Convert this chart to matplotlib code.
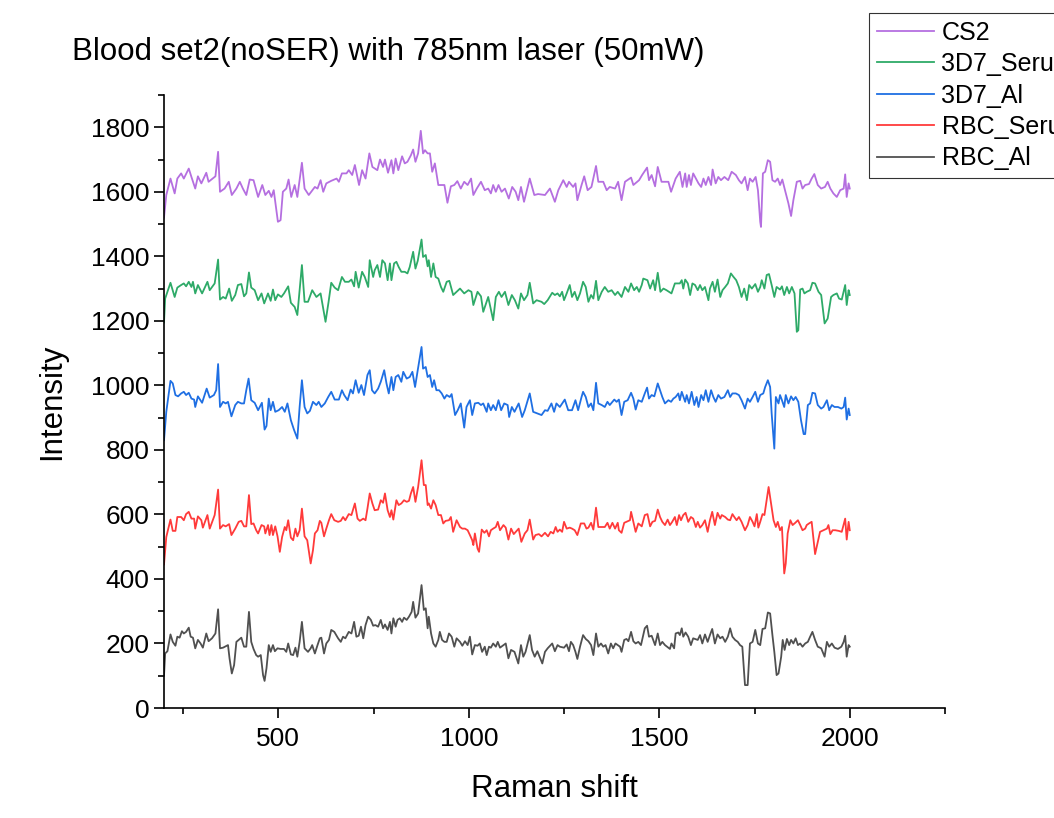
import numpy as np
import matplotlib
matplotlib.use("Agg")
import matplotlib.pyplot as plt
from matplotlib.ticker import MultipleLocator

plt.rcParams['font.family'] = ['Liberation Sans', 'DejaVu Sans']

# Raman shift / intensity
cs2_x = [200,206,217,228,235,245,252,265,272,282,289,298,311,317,335,342,347,359,370,378,
         390,399,407,416,425,435,447,458,466,475,482,488,499,506,512,521,527,534,543,550,
         562,569,580,596,603,611,618,626,639,653,659,667,679,685,694,701,712,720,729,739,
         747,760,767,775,780,788,797,802,808,815,825,832,839,848,854,860,867,874,880,885,
         892,898,904,911,920,936,944,953,962,970,979,988,997,1006,1012,1021,1032,1042,1051,1058,
         1064,1071,1078,1086,1095,1105,1114,1123,
         1130,1137,1145,1160,1172,1182,1200,1213,1226,1235,1248,1257,1263,1274,1280,1285,1296,1303,1312,1322,
         1334,1340,1353,1362,1370,1384,1392,1401,1410,1426,1432,1447,1455,1468,1473,1480,1489,1496,1506,1524,
         1531,1543,1554,1561,1568,1572,1578,1583,1589,1603,1610,1616,1622,1629,1636,1640,1648,1655,1662,1671,
         1681,1690,1701,1709,1716,1725,1732,1738,1745,1753,1759,1765,1767,1772,1778,1785,1791,1797,1804,1811,
         1817,1823,1830,1839,1846,1852,1861,1870,1876,1883,1893,1900,1907,1916,1925,1935,1942,1949,1957,1966,
         1975,1984,1988,1992,1997,2000]
cs2_y = [1520,1590,1641,1595,1641,1657,1641,1672,1646,1610,1648,1626,1659,1631,1648,1724,1600,1610,1631,1590,
         1610,1631,1610,1590,1638,1636,1584,1621,1590,1603,1584,1605,1507,1512,1600,1610,1638,1584,1621,1584,
         1690,1610,1590,1615,1610,1636,1600,1626,1634,1641,1631,1657,1657,1667,1652,1683,1621,1667,1641,1719,
         1677,1667,1700,1677,1700,1659,1698,1657,1703,1667,1710,1688,1693,1713,1731,1693,1719,1789,1719,1729,
         1719,1719,1662,1688,1621,1621,1566,1617,1621,1633,1610,1631,1621,1641,1590,1610,1631,1605,1610,1595,
         1621,1600,1621,1600,1610,1579,1615,1600,
         1574,1615,1569,1641,1590,1593,1590,1610,1569,1605,1636,1615,1631,1615,1626,1574,1621,1648,1605,1615,
         1680,1631,1631,1605,1615,1610,1631,1574,1631,1644,1621,1636,1652,1675,1636,1652,1617,1677,1631,1631,
         1600,1641,1662,1615,1657,1615,1652,1621,1657,1626,1615,1641,1621,1646,1621,1669,1626,1646,1636,1646,
         1636,1662,1652,1636,1626,1646,1605,1641,1631,1646,1605,1507,1491,1657,1662,1698,1693,1636,1631,1641,
         1621,1638,1605,1564,1525,1574,1631,1634,1610,1621,1624,1641,1655,1621,1610,1615,1631,1610,1595,1584,
         1605,1610,1654,1584,1626,1610]

s3d7_x = [200,203,217,228,235,245,252,258,265,272,276,282,289,300,314,320,333,342,347,355,
          362,371,378,387,394,403,410,416,423,429,438,447,456,463,473,480,486,492,499,508,
          515,526,533,543,550,562,569,578,589,600,611,624,632,639,648,657,667,675,685,692,
          699,703,711,720,727,736,740,749,753,760,767,773,780,787,793,797,804,810,816,823,
          832,839,845,854,860,866,876,880,887,892,895,901,907,913,920,927,933,942,949,959,
          968,977,988,999,1007,1012,1023,1032,1038,1051,1064,1071,1079,1086,1095,1104,1113,1121,
          1130,1137,1145,1154,1160,1169,1178,1191,1198,1207,1219,1226,1233,1239,1245,1250,1257,1265,1271,1278,
          1285,1292,1300,1307,1314,1321,1327,1334,1340,1349,1357,1366,1375,1384,1391,1401,1410,1419,1426,1434,
          1441,1447,1454,1458,1469,1476,1484,1489,1496,1503,1511,1519,1532,1541,1554,1559,1563,1568,1575,1581,
          1587,1594,1601,1607,1613,1620,1629,1633,1640,1646,1653,1660,1666,1673,1680,1688,1695,1702,1709,1716,
          1723,1730,1736,1743,1752,1759,1765,1769,1776,1782,1788,1795,1802,1808,1817,1822,1828,1835,1841,1848,
          1855,1861,1865,1870,1876,1881,1887,1896,1902,1909,1918,1925,1934,1942,1951,1957,1966,1972,1979,1988,
          1992,1997,2000]
s3d7_y = [1195,1269,1318,1274,1303,1311,1316,1307,1321,1305,1321,1285,1311,1285,1321,1295,1316,1390,1266,1274,
          1269,1300,1262,1280,1311,1314,1276,1285,1350,1303,1295,1264,1285,1254,1285,1262,1297,1264,1282,1274,
          1285,1307,1256,1243,1218,1373,1259,1259,1295,1274,1285,1197,1259,1318,1303,1295,1336,1321,1321,1328,
          1307,1352,1303,1352,1336,1305,1388,1336,1357,1373,1336,1388,1378,1326,1378,1326,1378,1383,1367,1352,
          1352,1347,1367,1414,1362,1386,1452,1398,1404,1369,1388,1336,1378,1336,1331,1305,1290,1321,1324,1280,
          1290,1300,1285,1295,1290,1249,1290,1276,1228,1274,1202,1274,1290,1274,1290,1249,1280,1264,
          1238,1285,1264,1280,1318,1254,1264,1259,1252,1264,1287,1280,1285,1276,1290,1264,1285,1311,1274,1290,
          1264,1285,1321,1305,1259,1280,1269,1324,1264,1290,1305,1290,1295,1280,1290,1274,1305,1290,1316,1295,
          1305,1290,1311,1331,1326,1300,1326,1295,1349,1290,1300,1295,1285,1316,1316,1326,1300,1328,1316,1280,
          1316,1311,1295,1311,1295,1305,1264,1300,1321,1290,1328,1274,1295,1305,1316,1347,1336,1326,1305,1274,
          1300,1264,1311,1300,1314,1290,1305,1326,1300,1342,1345,1311,1274,1305,1297,1307,1280,1305,1285,1305,
          1285,1166,1171,1297,1300,1285,1290,1295,1318,1316,1290,1280,1192,1207,1274,1280,1285,1269,1266,1311,
          1249,1295,1280]

a3d7_x = [200,206,217,223,230,237,245,252,258,265,272,279,282,289,300,312,320,331,337,342,
          347,355,362,368,377,387,394,403,410,416,422,429,438,447,457,464,469,475,480,486,
          492,501,510,517,524,533,541,550,556,562,569,576,583,591,600,606,613,622,631,639,
          648,659,667,673,682,690,696,703,711,718,725,734,740,746,753,762,769,778,784,790,
          797,802,808,815,823,828,837,845,852,859,866,876,880,887,892,898,904,909,915,922,
          929,936,942,950,955,964,971,979,988,994,1003,1009,1016,1025,1032,1038,1047,1051,1058,1064,
          1071,1078,1085,1093,1102,1106,1113,1120,
          1131,1140,1147,1160,1169,1191,1200,1207,1217,1224,1230,1239,1252,1261,1271,1280,1287,1296,1300,1307,
          1314,1321,1327,1334,1340,1349,1357,1364,1370,1382,1388,1394,1401,1408,1417,1426,1432,1438,1445,1454,
          1462,1468,1473,1480,1487,1496,1502,1508,1515,1524,1531,1537,1543,1550,1554,1559,1568,1572,1578,1585,
          1592,1598,1603,1610,1616,1622,1629,1636,1642,1648,1655,1662,1671,1680,1686,1692,1701,1709,1716,1725,
          1732,1738,1745,1752,1759,1765,1773,1778,1785,1791,1795,1802,1806,1813,1817,1822,1828,1832,1839,1846,
          1852,1858,1865,1872,1879,1883,1890,1896,1902,1909,1916,1925,1931,1940,1946,1953,1960,1969,1978,1984,
          1988,1992,1997,2000]
a3d7_y = [830,918,1014,1006,970,966,975,980,970,977,959,956,933,966,946,990,962,970,985,1066,
          933,949,944,949,904,939,949,944,944,985,1021,954,946,923,946,863,874,959,923,949,
          918,923,933,918,944,892,863,835,933,1016,933,913,921,949,939,949,933,944,964,980,
          956,956,985,970,954,987,975,1016,977,1001,970,1032,1047,985,975,990,1011,1047,1006,975,
          1026,985,1026,1032,1011,1042,1021,1026,1042,995,1047,1119,1052,1057,1026,1032,995,1016,985,985,
          975,959,970,964,973,908,923,944,869,933,954,908,944,946,939,944,918,944,923,939,
          923,954,923,944,939,902,933,918,
          944,902,923,975,918,908,923,921,944,918,944,933,956,923,923,954,923,964,980,964,
          933,944,923,1008,944,939,933,949,939,956,949,956,908,949,954,977,959,925,954,949,
          975,993,959,970,966,1006,985,964,944,954,949,959,964,975,954,980,949,970,944,980,
          939,964,933,970,954,985,949,985,964,949,970,959,964,985,964,975,975,970,954,928,
          959,949,964,980,949,970,975,995,1016,995,913,804,964,944,970,954,933,970,944,966,
          954,964,949,892,849,849,939,944,977,975,939,928,933,954,923,939,933,933,928,933,
          962,894,928,908]

srbc_x = [200,206,217,223,230,235,245,252,258,265,272,279,282,289,298,302,314,320,333,342,
          347,355,362,371,377,387,396,403,410,416,423,429,435,442,447,456,463,466,473,477,
          482,486,492,498,504,510,517,521,526,533,539,545,550,556,562,569,576,585,591,596,
          603,609,613,620,626,633,639,647,657,664,670,676,685,692,701,708,714,723,729,734,
          740,747,753,762,769,775,780,787,793,797,802,810,816,823,830,837,843,848,854,860,
          867,876,882,887,892,895,901,907,913,920,927,933,939,948,953,959,968,977,983,990,
          997,1003,1009,1012,1016,1023,1027,1034,1041,1047,1053,1058,1064,1071,1076,1082,1091,1097,1104,1111,
          1118,
          1131,1138,1147,1154,1160,1169,1175,1184,1191,1200,1208,1215,1222,1228,1233,1239,1245,1250,1257,1265,
          1271,1278,1285,1294,1303,1309,1314,1321,1327,1334,1340,1357,1364,1370,1377,1384,1391,1394,1401,1408,
          1423,1426,1432,1438,1445,1454,1462,1469,1476,1482,1489,1496,1502,1508,1515,1522,1528,1534,1541,1546,
          1552,1557,1563,1569,1576,1583,1589,1596,1601,1607,1613,1620,1627,1633,1639,1646,1653,1660,1664,1673,
          1680,1686,1692,1697,1703,1709,1716,1725,1732,1738,1745,1750,1756,1760,1765,1771,1776,1782,1787,1794,
          1800,1806,1811,1817,1822,1828,1832,1837,1844,1850,1857,1864,1870,1876,1883,1887,1893,1900,1909,1916,
          1922,1931,1940,1944,1949,1955,1962,1971,1979,1988,1992,1997,2000]
srbc_y = [445,530,584,549,549,592,592,582,601,608,587,587,556,594,582,559,598,556,598,677,
          556,567,563,570,536,556,577,580,563,563,660,570,572,551,541,567,563,541,567,536,
          567,536,563,532,484,530,561,551,582,528,520,556,532,551,618,532,520,448,489,541,
          551,580,574,532,556,582,601,582,577,580,592,582,601,598,634,587,580,587,582,618,
          665,634,613,615,644,636,665,613,592,613,584,644,629,634,644,639,642,665,685,639,
          685,768,691,691,629,634,618,644,629,598,598,572,580,582,592,546,582,561,556,556,
          551,536,520,505,541,494,484,553,543,551,532,551,556,561,577,551,567,559,522,556,
          539,
          556,515,541,551,584,522,536,539,532,543,532,546,541,561,546,553,546,577,556,559,
          556,551,536,572,572,556,559,574,553,621,561,561,574,556,574,556,574,551,543,574,
          582,608,577,546,572,563,598,601,563,577,580,615,592,577,567,584,567,577,592,567,
          598,582,598,605,577,592,587,561,577,559,567,582,546,582,608,567,605,587,598,592,
          584,582,601,592,582,592,577,551,567,592,577,563,601,559,577,601,598,646,685,629,
          582,561,577,551,561,417,448,541,582,567,574,582,567,551,556,567,572,577,477,515,
          546,551,556,567,539,551,551,549,546,587,522,577,551]

arbc_x = [200,203,209,217,223,230,235,241,247,252,258,265,270,276,282,289,296,302,311,317,
          326,335,342,347,355,368,372,378,384,390,399,403,410,416,423,429,435,442,447,454,
          460,464,469,475,480,486,491,498,506,515,521,526,533,539,545,550,556,562,569,578,
          585,589,596,603,609,613,620,626,633,639,647,657,664,670,676,685,692,699,705,711,
          717,723,729,736,743,749,755,762,769,775,780,787,793,797,802,808,813,819,825,830,
          837,843,850,854,860,867,876,882,887,892,895,901,907,913,920,924,930,936,942,948,
          955,962,968,977,983,990,997,1003,1009,1016,1023,1029,1035,1042,1047,1053,1058,1064,1071,1076,
          1082,1091,1097,1104,1111,1120,
          1130,1137,1143,1149,1160,1166,1173,1180,1187,1193,1200,1207,1219,1226,1233,1239,1250,1257,1263,1268,
          1274,1280,1285,1292,1300,1307,1314,1321,1327,1334,1340,1347,1353,1359,1366,1373,1379,1385,1397,1401,
          1408,1414,1419,1426,1432,1438,1445,1452,1458,1462,1468,1473,1480,1489,1496,1502,1508,1515,1528,1532,
          1539,1543,1550,1554,1559,1563,1569,1576,1583,1589,1601,1607,1613,1620,1627,1633,1639,1646,1653,1660,
          1666,1673,1680,1686,1692,1699,1706,1712,1718,1725,1732,1738,1745,1752,1759,1765,1771,1778,1785,1791,
          1797,1802,1808,1813,1820,1824,1829,1835,1841,1846,1852,1858,1864,1870,1876,1883,1890,1896,1902,1909,
          1916,1925,1934,1940,1946,1953,1960,1969,1978,1984,1988,1992,1997,2000]
arbc_y = [100,169,176,228,205,193,221,218,238,231,236,249,221,218,185,211,200,187,231,207,
          216,231,306,185,187,195,154,107,133,205,214,218,190,190,298,205,183,164,159,164,
          102,84,123,195,174,195,176,185,183,183,174,200,166,164,187,159,205,267,185,174,
          185,195,169,195,216,218,169,200,211,242,236,216,205,221,216,236,231,267,221,224,
          252,216,257,283,273,255,257,252,273,247,259,242,267,231,278,252,273,278,267,280,
          273,283,298,329,280,293,381,304,309,247,283,231,200,190,211,236,211,205,205,231,
          221,190,216,205,193,207,195,221,166,195,193,200,174,190,164,190,187,200,190,205,
          187,195,200,154,180,174,
          138,195,159,174,226,180,159,176,156,138,174,185,200,176,195,190,187,197,176,205,
          195,174,152,190,226,214,207,195,164,231,190,200,190,195,169,200,185,200,190,174,
          211,214,207,236,207,200,205,195,226,247,255,221,224,195,231,195,205,195,183,200,
          185,231,234,226,247,221,234,221,195,216,211,226,200,228,205,226,245,200,228,216,
          221,205,221,247,221,211,205,195,190,71,71,200,205,242,200,195,245,247,296,293,
          226,174,102,107,159,211,180,214,195,211,200,216,195,200,190,200,205,221,236,211,
          190,185,159,205,190,200,187,183,190,205,224,159,195,190]

labels = ["CS2", "3D7_Serum", "3D7_Al", "RBC_Serum", "RBC_Al"]
colors = ["#B56FE0", "#2EAA68", "#1F6FE3", "#FF3A3A", "#505050"]
series = [(cs2_x, cs2_y), (s3d7_x, s3d7_y), (a3d7_x, a3d7_y), (srbc_x, srbc_y), (arbc_x, arbc_y)]

fig = plt.figure(figsize=(10.54, 8.18), dpi=100)
ax = fig.add_axes([164/1054, 110/818, (945-164)/1054, (708-95)/818])

lines = []
for (x, y), c, lab in zip(series, colors, labels):
    ln, = ax.plot(x, y, color=c, lw=1.3, label=lab)
    lines.append(ln)

ax.set_xlim(200, 2250)
ax.set_ylim(0, 1900)
ax.xaxis.set_major_locator(MultipleLocator(500))
ax.xaxis.set_minor_locator(MultipleLocator(250))
ax.yaxis.set_minor_locator(MultipleLocator(100))
ax.set_yticks(np.arange(0, 1801, 200))
ax.spines['top'].set_visible(False)
ax.spines['right'].set_visible(False)
for s in ['left', 'bottom']:
    ax.spines[s].set_linewidth(1.2)
ax.tick_params(which='major', direction='out', length=7, width=1.2, labelsize=19)
ax.tick_params(axis='x', which='major', pad=7)
ax.tick_params(which='minor', direction='out', length=4, width=1.2)

ax.set_xlabel("Raman shift", fontsize=22.5, labelpad=16)
ax.set_ylabel("Intensity", fontsize=22.5, labelpad=17)
fig.text(72/1054, 1-52/818, "Blood set2(noSER) with 785nm laser (50mW)", fontsize=22.5, va='center', ha='left')

leg = fig.legend(lines, labels, loc='upper left', bbox_to_anchor=(869/1054, 1-13/818),
                 borderaxespad=0, fontsize=18, frameon=True, fancybox=False,
                 edgecolor='black', handlelength=2.3, handletextpad=0.3,
                 labelspacing=0.3, borderpad=0.3)
leg.get_frame().set_linewidth(0.8)

fig.savefig("out.png", dpi=100)
